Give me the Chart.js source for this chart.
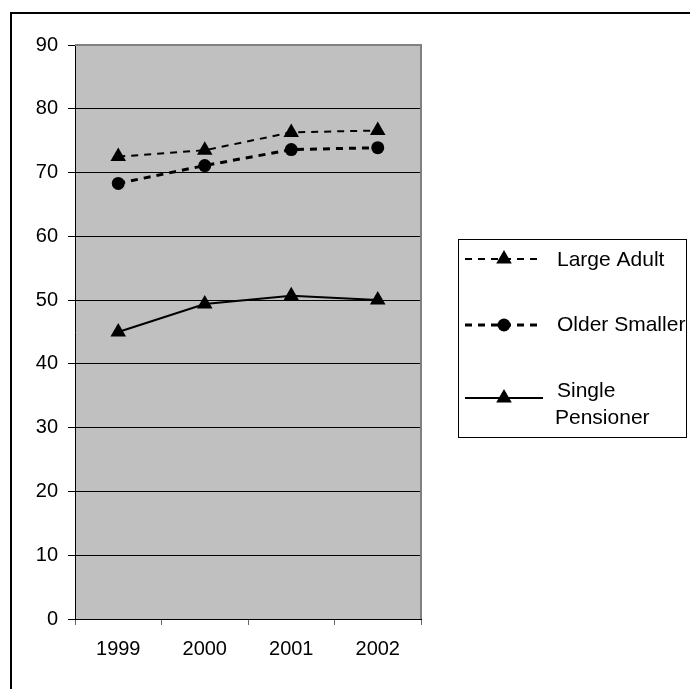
<!DOCTYPE html>
<html>
<head>
<meta charset="utf-8">
<script src="https://cdn.jsdelivr.net/npm/chart.js@4.4.0/dist/chart.umd.min.js"></script>
<style>
  html, body { margin: 0; padding: 0; background: #fff; }
  canvas { display: block; }
</style>
</head>
<body>
<canvas id="chart" width="690" height="689"></canvas>
<script>
const years = ["1999", "2000", "2001", "2002"];
const largeAdult = [72.5, 73.5, 76.3, 76.6];
const olderSmaller = [68.3, 71.1, 73.6, 73.9];
const singlePensioner = [45.0, 49.4, 50.7, 50.0];
const yTicks = [0, 10, 20, 30, 40, 50, 60, 70, 80, 90];

const axisFont = { family: "'Liberation Sans', Arial, sans-serif", size: 20 };
const legendFont = "21px 'Liberation Sans', Arial, sans-serif";

function drawMarker(ctx, style, x, y, r) {
  ctx.beginPath();
  if (style === "triangle") {
    let a = 0;
    ctx.moveTo(x + Math.sin(a) * r, y - Math.cos(a) * r);
    a += Math.PI * 2 / 3;
    ctx.lineTo(x + Math.sin(a) * r, y - Math.cos(a) * r);
    a += Math.PI * 2 / 3;
    ctx.lineTo(x + Math.sin(a) * r, y - Math.cos(a) * r);
    ctx.closePath();
  } else {
    ctx.arc(x, y, r, 0, Math.PI * 2);
  }
  ctx.fill();
}

// frame, grey plot background, legend box
const decor = {
  id: "decor",
  beforeDraw(chart) {
    const { ctx, chartArea: a } = chart;
    ctx.save();
    ctx.strokeStyle = "#000";
    ctx.lineWidth = 2;
    ctx.beginPath();
    ctx.moveTo(11, 700);
    ctx.lineTo(11, 13);
    ctx.lineTo(700, 13);
    ctx.stroke();
    ctx.fillStyle = "#c0c0c0";
    ctx.fillRect(a.left, a.top, a.right - a.left, a.bottom - a.top);
    ctx.restore();
  },
  beforeDatasetsDraw(chart) {
    const { ctx, chartArea: a } = chart;
    ctx.save();
    ctx.strokeStyle = "#808080";
    ctx.lineWidth = 2;
    ctx.beginPath();
    ctx.moveTo(a.left, a.top);
    ctx.lineTo(a.right, a.top);
    ctx.lineTo(a.right, a.bottom);
    ctx.stroke();
    ctx.restore();
  },
  afterDraw(chart) {
    const ctx = chart.ctx;
    ctx.save();
    ctx.strokeStyle = "#000";
    ctx.lineWidth = 1;
    ctx.strokeRect(458.5, 239.5, 228, 198);
    const rows = [
      { line: 259, text: [266] },
      { line: 325, text: [331] },
      { line: 398, text: [397, 424] }
    ];
    ctx.font = legendFont;
    ctx.textBaseline = "alphabetic";
    chart.data.datasets.forEach((ds, i) => {
      const row = rows[i];
      ctx.strokeStyle = "#000";
      ctx.lineWidth = ds.borderWidth;
      ctx.setLineDash(ds.borderDash || []);
      ctx.beginPath();
      ctx.moveTo(465, row.line);
      ctx.lineTo(543, row.line);
      ctx.stroke();
      ctx.setLineDash([]);
      ctx.fillStyle = "#000";
      drawMarker(ctx, ds.pointStyle, 504, row.line, ds.pointRadius);
      const words = ds.label.split(" ");
      const parts = row.text.length > 1 ? [words[0], words.slice(1).join(" ")] : [ds.label];
      parts.forEach((p, k) => {
        ctx.fillText(p, k === 0 ? 557 : 555, row.text[k]);
      });
    });
    ctx.restore();
  }
};

new Chart(document.getElementById("chart"), {
  type: "line",
  data: {
    labels: years,
    datasets: [
      {
        label: "Large Adult",
        data: largeAdult,
        borderColor: "#000",
        backgroundColor: "#000",
        borderWidth: 2,
        borderDash: [7, 6],
        pointStyle: "triangle",
        pointRadius: 9,
        pointBorderWidth: 0,
        tension: 0
      },
      {
        label: "Older Smaller",
        data: olderSmaller,
        borderColor: "#000",
        backgroundColor: "#000",
        borderWidth: 3,
        borderDash: [7, 6],
        pointStyle: "circle",
        pointRadius: 6.5,
        pointBorderWidth: 0,
        tension: 0
      },
      {
        label: "Single Pensioner",
        data: singlePensioner,
        borderColor: "#000",
        backgroundColor: "#000",
        borderWidth: 2,
        pointStyle: "triangle",
        pointRadius: 9,
        pointBorderWidth: 0,
        tension: 0
      }
    ]
  },
  options: {
    responsive: false,
    animation: false,
    devicePixelRatio: 1,
    layout: { padding: { top: 45, right: 269, bottom: 0, left: 0 } },
    plugins: {
      legend: { display: false },
      tooltip: { enabled: false }
    },
    scales: {
      x: {
        offset: true,
        grid: {
          offset: true,
          drawOnChartArea: false,
          drawTicks: true,
          tickLength: 6,
          color: "#666"
        },
        border: { color: "#000", width: 1 },
        ticks: { color: "#000", font: axisFont, padding: 12, maxRotation: 0 },
        afterFit(scale) { scale.height = 70; }
      },
      y: {
        min: 0,
        max: 90,
        afterBuildTicks(scale) { scale.ticks = yTicks.map(v => ({ value: v })); },
        grid: { color: "#000", lineWidth: 1, tickLength: 7 },
        border: { color: "#000", width: 1 },
        ticks: { color: "#000", font: axisFont, padding: 10 },
        afterFit(scale) { scale.width = 75; }
      }
    }
  },
  plugins: [decor]
});
</script>
</body>
</html>
